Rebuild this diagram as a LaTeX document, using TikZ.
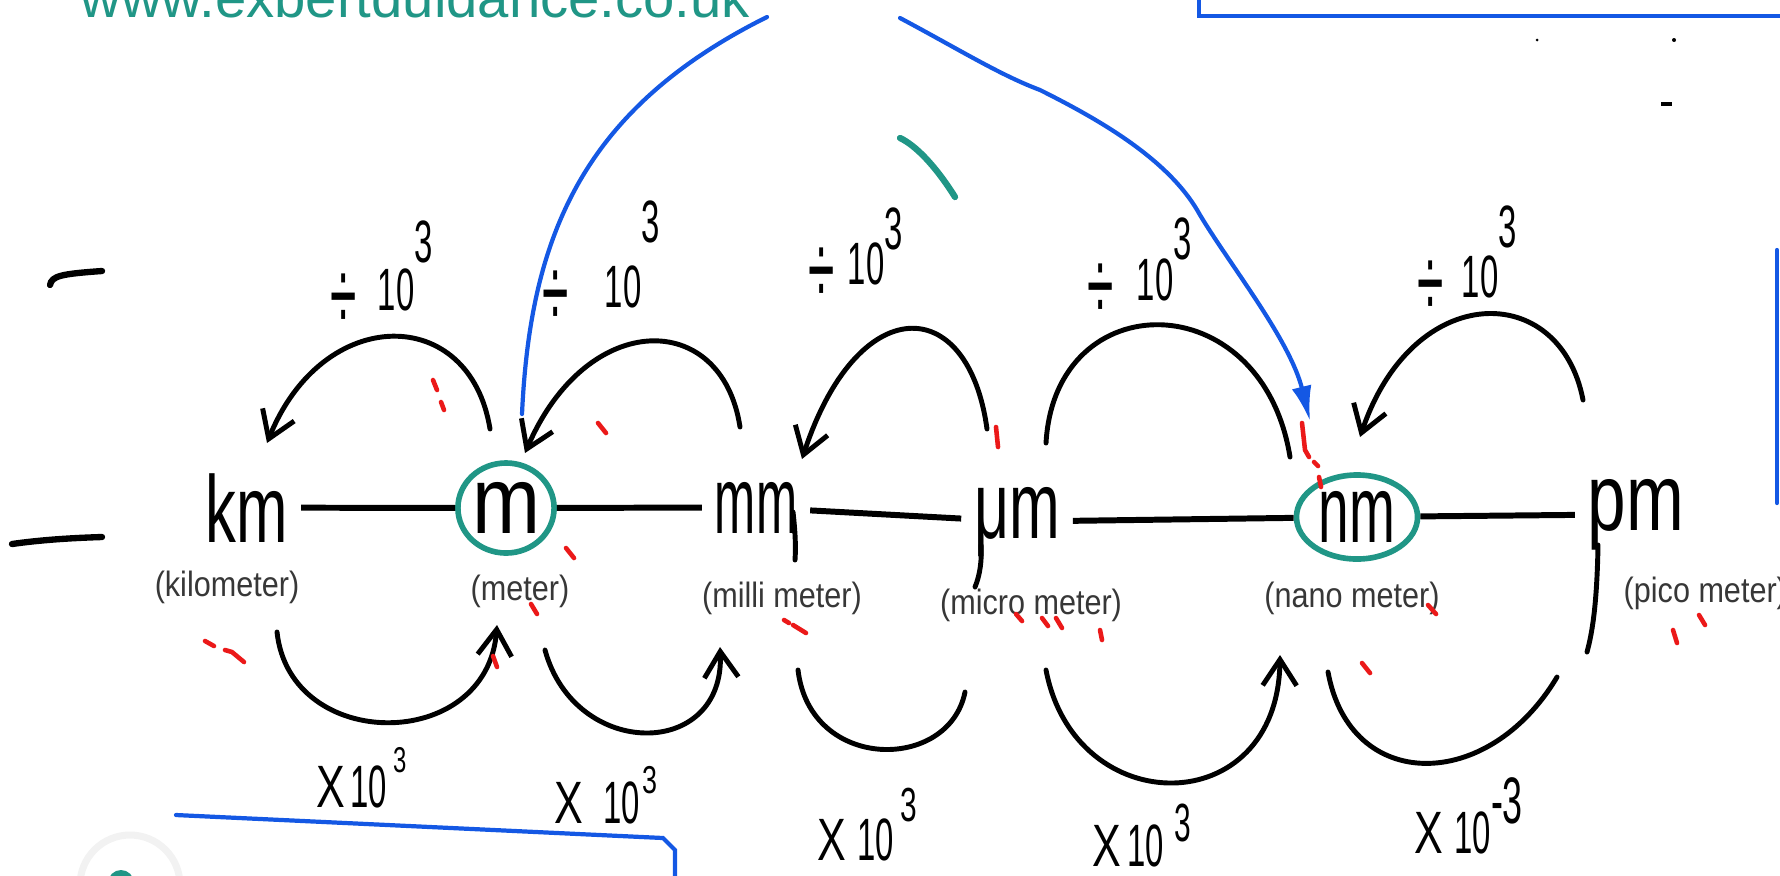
\documentclass[tikz,border=0pt]{standalone}
\usepackage{fontspec}
\setmainfont{Liberation Sans}
\usepackage{graphicx}
\usetikzlibrary{arrows.meta,shapes.geometric}

\definecolor{tealc}{RGB}{32,150,134}
\definecolor{bluec}{RGB}{20,88,228}
\definecolor{redc}{RGB}{235,25,25}
\definecolor{lblc}{RGB}{55,55,55}

\newcommand{\hd}[1]{\scalebox{0.55}[1]{#1}}
\newcommand{\dvd}{\raisebox{-0.2cm}{\scalebox{0.8}[1.7]{÷}}}

\begin{document}
\begin{tikzpicture}[x=0.01cm, y=-0.01cm,
  unit/.style={font=\fontsize{27}{27}\selectfont, inner sep=3.5pt, anchor=base},
  ring/.style={ellipse, draw=tealc, line width=1.6pt, inner sep=0pt, font=\fontsize{27}{27}\selectfont},
  hline/.style={line width=1.7pt},
  arcline/.style={line width=1.4pt, line cap=round},
  arcarrow/.style={arcline, -{Straight Barb[length=2.6mm,width=3.4mm]}},
  paren/.style={font=\fontsize{10}{10}\selectfont, text=lblc, anchor=base, inner sep=0pt},
  hand/.style={font=\fontsize{17}{17}\selectfont, anchor=base west, inner sep=0pt},
  bluel/.style={draw=bluec, line width=1.2pt, line cap=round},
  redm/.style={draw=redc, line width=1.3pt, line cap=round},
  penstroke/.style={line width=1.8pt, line cap=round}
]
\useasboundingbox (0,0) rectangle (1780,875);
\clip (0,0) rectangle (1780,875);

% website text (cut at top)
\node[anchor=base west, text=tealc, font=\fontsize{16}{16}\selectfont, inner sep=0pt] (url) at (80,17) {www.exbertduidance.co.uk};

% blue frames
\draw[bluel] (1199,-5) -- (1199,16) -- (1790,16);
\draw[bluel] (1777,250) -- (1777,503);
\coordinate (bl1) at (176,815);
\coordinate (bl2) at (675,885);
\draw[bluel] (bl1) -- (663,838) -- (675,850) -- (bl2);

% left marks
\draw[penstroke] (50,285) .. controls (52,276) and (60,274) .. (102,271);
\draw[penstroke] (12,544) .. controls (40,540) and (70,538) .. (102,537);

% top right specks
\fill (1537,40) circle (1.5);
\fill (1674,40) circle (2);
\draw[line width=1pt] (1661,104) -- (1672,104);

% teal stroke
\draw[tealc, line width=1.8pt, line cap=round] (900,138) .. controls (915,145) and (935,165) .. (955,197);

% bottom-left decorations
\draw[black!5, line width=2pt] (130,885) circle (50);
\fill[tealc] (121,883) circle (13);

% unit nodes
\node[unit] (km) at (247,542) {\scalebox{0.65}[1]{km}};
\node[ring, minimum width=0.96cm, minimum height=0.90cm] (m) at (506,508) {\scalebox{0.86}[1]{m}};
\node[unit] (mm) at (756,533) {\scalebox{0.52}[1]{mm}};
\node[unit] (mu) at (1017,538) {\scalebox{0.64}[1]{μm}};
\node[ring, minimum width=1.21cm, minimum height=0.84cm] (nm) at (1357,517) {\scalebox{0.58}[1]{nm}};
\node[unit] (pm) at (1636,530) {\scalebox{0.73}[1]{pm}};

% long handwritten descenders
\draw[arcline] (793,512) .. controls (795,530) and (796,545) .. (795,560);
\draw[arcline] (981,545) .. controls (982,560) and (980,575) .. (975,587);
\draw[arcline] (1598,545) .. controls (1597,600) and (1593,630) .. (1587,652);

% connecting line
\draw[hline] (km) -- (m);
\draw[hline] (m) -- (mm);
\draw[hline] (mm) -- (mu);
\draw[hline] (mu) -- (nm);
\draw[hline] (nm) -- (pm);

% names
\node[paren] (lkm) at (227,596) {\scalebox{0.87}[1]{(kilometer)}};
\node[paren] (lm) at (520,600) {\scalebox{0.87}[1]{(meter)}};
\node[paren] (lmm) at (782,607) {\scalebox{0.87}[1]{(milli meter)}};
\node[paren] (lmu) at (1031,614) {\scalebox{0.87}[1]{(micro meter)}};
\node[paren] (lnm) at (1352,607) {\scalebox{0.87}[1]{(nano meter)}};
\node[paren, anchor=base west] (lpm) at (1623,602) {\scalebox{0.87}[1]{(pico meter)}};

% top arcs (divide)
\coordinate (a1s) at (490,429); \coordinate (a1e) at (267,443);
\coordinate (a2s) at (740,427); \coordinate (a2e) at (525,453);
\coordinate (a3s) at (987,429); \coordinate (a3e) at (802,459);
\coordinate (a4s) at (1290,457); \coordinate (a4e) at (1046,443);
\coordinate (a5s) at (1583,400); \coordinate (a5e) at (1360,437);
\draw[arcarrow] (a1s) .. controls (470,304) and (323,304) .. (a1e);
\draw[arcarrow] (a2s) .. controls (722,309) and (587,309) .. (a2e);
\draw[arcarrow] (a3s) .. controls (968,291) and (857,291) .. (a3e);
\draw[arcline] (a4s) .. controls (1262,283) and (1055,283) .. (a4e);
\draw[arcarrow] (a5s) .. controls (1560,280) and (1413,280) .. (a5e);

% bottom arcs (multiply)
\coordinate (b1s) at (277,632); \coordinate (b1e) at (497,625);
\coordinate (b2s) at (545,650); \coordinate (b2e) at (720,647);
\coordinate (b3s) at (798,670); \coordinate (b3e) at (965,692);
\coordinate (b4s) at (1046,670); \coordinate (b4e) at (1280,655);
\coordinate (b5s) at (1328,672); \coordinate (b5e) at (1557,677);
\draw[arcarrow] (b1s) .. controls (290,753) and (487,753) .. (b1e);
\draw[arcarrow] (b2s) .. controls (575,760) and (725,760) .. (b2e);
\draw[arcline] (b3s) .. controls (810,772) and (949,772) .. (b3e);
\draw[arcarrow] (b4s) .. controls (1075,822) and (1278,822) .. (b4e);
\draw[arcline] (b5s) .. controls (1350,793) and (1488,793) .. (b5e);

% divide labels
\node[hand] (d1) at (330,310) {\dvd\hspace{0.21cm}\hd{10}\raisebox{0.47cm}{\hd{3}}};
\node[hand] (d2) at (542,307) {\dvd\hspace{0.36cm}\hd{10}\raisebox{0.64cm}{\hd{3}}};
\node[hand] (d3) at (808,284) {\dvd\hspace{0.13cm}\hd{10}\raisebox{0.34cm}{\hd{3}}};
\node[hand] (d4) at (1087,300) {\dvd\hspace{0.23cm}\hd{10}\raisebox{0.40cm}{\hd{3}}};
\node[hand] (d5) at (1417,297) {\dvd\hspace{0.18cm}\hd{10}\raisebox{0.49cm}{\hd{3}}};

% multiply labels
\node[hand] (x1) at (316,807) {\scalebox{0.72}[1]{X}\hspace{0.05cm}\hd{10}\hspace{0.06cm}\raisebox{0.35cm}{\scalebox{0.4}[0.6]{3}}};
\node[hand] (x2) at (554,823) {\scalebox{0.72}[1]{X}\hspace{0.20cm}\hd{10}\hspace{0.02cm}\raisebox{0.30cm}{\scalebox{0.45}[0.65]{3}}};
\node[hand] (x3) at (817,860) {\scalebox{0.72}[1]{X}\hspace{0.11cm}\hd{10}\hspace{0.06cm}\raisebox{0.39cm}{\scalebox{0.5}[0.8]{3}}};
\node[hand] (x4) at (1092,866) {\scalebox{0.72}[1]{X}\hspace{0.06cm}\hd{10}\hspace{0.10cm}\raisebox{0.25cm}{\scalebox{0.5}[0.9]{3}}};
\node[hand] (x5) at (1414,853) {\scalebox{0.72}[1]{X}\hspace{0.11cm}\hd{10}\raisebox{0.30cm}{\scalebox{0.6}[1.1]{-3}}};

% blue arc from m to nm
\coordinate (bs) at (522,414);
\coordinate (bt1) at (767,17);
\coordinate (bt2) at (900,18);
\coordinate (be) at (1310,421);
\draw[bluel] (bs) .. controls (530,240) and (580,110) .. (bt1);
\draw[bluel, -{Latex[length=3.5mm,width=2mm]}] (bt2) .. controls (960,50) and (1000,75) .. (1040,90) .. controls (1100,120) and (1170,160) .. (1200,215) .. controls (1230,265) and (1290,340) .. (be);

% red marks
\draw[redm] (433,380) -- (437,390);
\draw[redm] (441,402) -- (444,410);
\draw[redm] (598,423) -- (606,433);
\draw[redm] (566,548) -- (574,558);
\draw[redm] (531,604) -- (537,614);
\draw[redm] (784,620) -- (789,623);
\draw[redm] (793,625) -- (806,633);
\draw[redm] (205,641) -- (214,646);
\draw[redm] (225,650) -- (232,652) -- (244,662);
\draw[redm] (493,656) -- (497,667);
\draw[redm] (996,427) -- (998,447);
\draw[redm] (1302,423) -- (1305,450) -- (1309,457);
\draw[redm] (1314,462) -- (1318,466);
\draw[redm] (1319,477) -- (1321,487);
\draw[redm] (1016,614) -- (1022,621);
\draw[redm] (1042,618) -- (1048,626);
\draw[redm] (1056,618) -- (1062,628);
\draw[redm] (1100,630) -- (1102,640);
\draw[redm] (1428,605) -- (1436,614);
\draw[redm] (1673,630) -- (1677,643);
\draw[redm] (1699,615) -- (1705,625);
\draw[redm] (1362,663) -- (1370,673);
\end{tikzpicture}
\end{document}
